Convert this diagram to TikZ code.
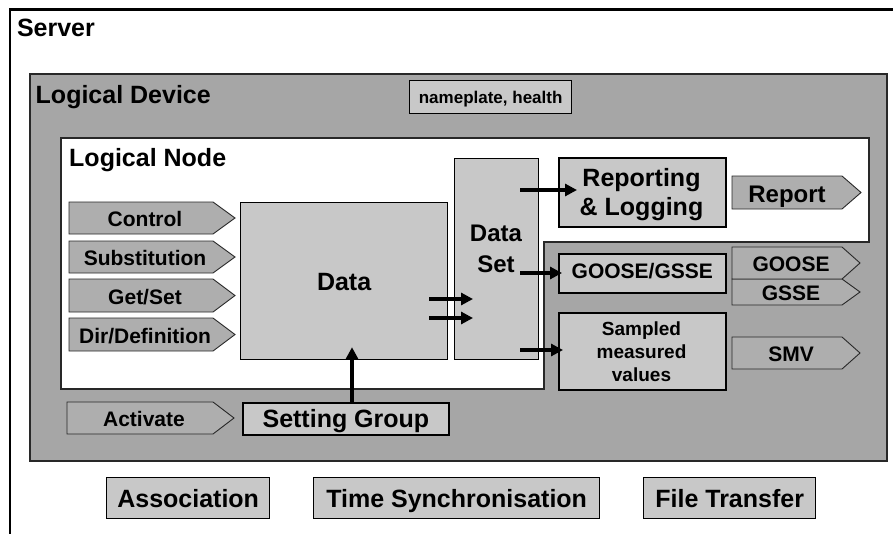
\documentclass[tikz,border=0pt]{standalone}
\usepackage{fontspec}
\setmainfont{Liberation Sans}
\usetikzlibrary{arrows.meta,calc}
\definecolor{ldgray}{RGB}{166,166,166}
\definecolor{taggray}{RGB}{174,174,174}
\definecolor{boxgray}{RGB}{200,200,200}
\definecolor{edgegray}{RGB}{40,40,40}
\newcommand{\fsz}[2]{\bfseries\fontsize{#1}{#2}\selectfont}
% name, x0, y0, x tip, y1, tip depth, text
\newcommand{\tagshape}[7]{%
  \draw[tagpath] (#2,#3) -- ({#4-#6},#3) -- (#4,{(#3+#5)/2}) -- ({#4-#6},#5) -- (#2,#5) -- cycle;
  \node[tagtxt] (#1) at ({(#2+#4-#6)/2+4},{(#3+#5)/2+1}) {#7};}
\begin{document}
\begin{tikzpicture}[x=1pt,y=-1pt,
  lbl/.style={anchor=base west, inner sep=0pt, font=\fsz{25}{25}},
  gbox/.style={draw=black, line width=1.6pt, fill=boxgray, anchor=north west, inner sep=0pt},
  cap25/.style={font=\fsz{25}{25}, text height=17.9pt, text depth=0pt},
  cap21/.style={font=\fsz{21}{21}, text height=15pt, text depth=0pt},
  cap17/.style={font=\fsz{17}{17}, text height=12.2pt, text depth=0pt},
  tagpath/.style={draw=edgegray, line width=0.9pt, fill=taggray},
  tagtxt/.style={inner sep=0pt, font=\fsz{21}{21}, text height=15pt, text depth=0pt},
  arr/.style={line width=3.2pt, -{Triangle[length=12pt,width=12pt]}}
]
\useasboundingbox (0,0) rectangle (893,533);
\clip (0,0) rectangle (893,533);
\fill[white] (0,0) rectangle (893,533);

% Server
\draw[line width=2.7pt] (10,560) -- (10,9.5) -- (920,9.5);
\node[lbl] (server) at (16.8,36.3) {Server};

% Logical Device
\node[draw=edgegray, line width=1.5pt, fill=ldgray, anchor=north west,
      minimum width=857pt, minimum height=387pt, inner sep=0pt] (ld) at (29,73) {};
\node[lbl] (ldlabel) at (35.5,103.3) {Logical Device};
\node[gbox, cap17, line width=1.3pt, minimum width=162pt, minimum height=33pt] (nameplate) at (409,80) {nameplate, health};

% Logical Node
\draw[draw=edgegray, line width=1.5pt, fill=white]
  (61,138) -- (869,138) -- (869,242) -- (544,242) -- (544,389) -- (61,389) -- cycle;
\node[lbl] (lnlabel) at (69,166.7) {Logical Node};

% service tags on the left
\tagshape{control}{69}{202}{235}{234}{22}{Control}
\tagshape{subst}{69}{241}{235}{273}{22}{Substitution}
\tagshape{getset}{69}{279}{235}{312}{22}{Get/Set}
\tagshape{dirdef}{69}{318}{235}{351}{22}{Dir/Definition}
\tagshape{activate}{67}{402}{234}{434}{21}{Activate}

% Data
\node[gbox, cap25, line width=1.2pt, minimum width=207pt, minimum height=157pt] (data) at (240,202) {Data};
% Data Set
\node[gbox, line width=1.4pt, minimum width=84pt, minimum height=201pt] (dataset) at (454,158) {};
\node[inner sep=0pt, align=center, font=\fsz{24}{31}] (dstext) at (496,249) {Data\\Set};

% Reporting & Logging
\node[gbox, minimum width=167pt, minimum height=69pt] (rep) at (558,157) {};
\node[inner sep=0pt, align=center, font=\fsz{25}{29}] (reptext) at (641.5,194.2) {Reporting\\\& Logging};
% GOOSE/GSSE
\node[gbox, cap21, minimum width=167pt, minimum height=39pt] (gg) at (558,253) {\raisebox{2.5pt}{GOOSE/GSSE}};
% Sampled measured values
\node[gbox, minimum width=167pt, minimum height=77pt] (smvbox) at (558,312) {};
\node[inner sep=0pt, align=center, font=\fsz{19}{23}] (smvtext) at (641.5,352) {Sampled\\measured\\values};

% output tags
\draw[tagpath] (732,176) -- (842,176) -- (861,192.5) -- (842,209) -- (732,209) -- cycle;
\node[inner sep=0pt, font=\fsz{24}{24}, text height=17.2pt, text depth=0pt] (report) at (787,194) {Report};
\tagshape{gsse}{732}{279}{860}{305}{18}{GSSE}
\tagshape{goose}{732}{247}{860}{279}{18}{GOOSE}
\tagshape{smv}{732}{337}{860}{369}{18}{SMV}

% Setting Group
\node[gbox, cap25, line width=1.8pt, minimum width=206pt, minimum height=32pt] (setg) at (242,402) {Setting Group};

% bottom services
\node[gbox, cap25, line width=1.3pt, minimum width=163pt, minimum height=41pt] (assoc) at (106,477) {Association};
\node[gbox, cap25, line width=1.3pt, minimum width=286pt, minimum height=41pt] (tsync) at (313,477) {Time Synchronisation};
\node[gbox, cap25, line width=1.3pt, minimum width=172pt, minimum height=41pt] (ftrans) at (643,477) {File Transfer};

% connectors
\coordinate (d1) at ($(data.north east)+(-19,97)$);
\coordinate (d2) at ($(data.north east)+(-19,116)$);
\coordinate (t1) at ($(dataset.north west)+(19,141)$);
\coordinate (t2) at ($(dataset.north west)+(19,160)$);
\draw[arr] (d1) -- (t1);
\draw[arr] (d2) -- (t2);

\coordinate (o1) at ($(dataset.north east)+(-19,32)$);
\coordinate (o2) at ($(dataset.north east)+(-19,115)$);
\coordinate (o3) at ($(dataset.north east)+(-19,192)$);
\coordinate (r1) at ($(rep.north west)+(19,33)$);
\coordinate (r2) at ($(gg.north west)+(4,20)$);
\coordinate (r3) at ($(smvbox.north west)+(5,38)$);
\draw[arr] (o1) -- (r1);
\draw[arr] (o2) -- (r2);
\draw[arr] (o3) -- (r3);

\coordinate (sgup) at ($(setg.north west)+(110,0)$);
\coordinate (dtip) at ($(data.south west)+(112,-13)$);
\draw[arr] (sgup) -- (dtip);
\end{tikzpicture}
\end{document}
